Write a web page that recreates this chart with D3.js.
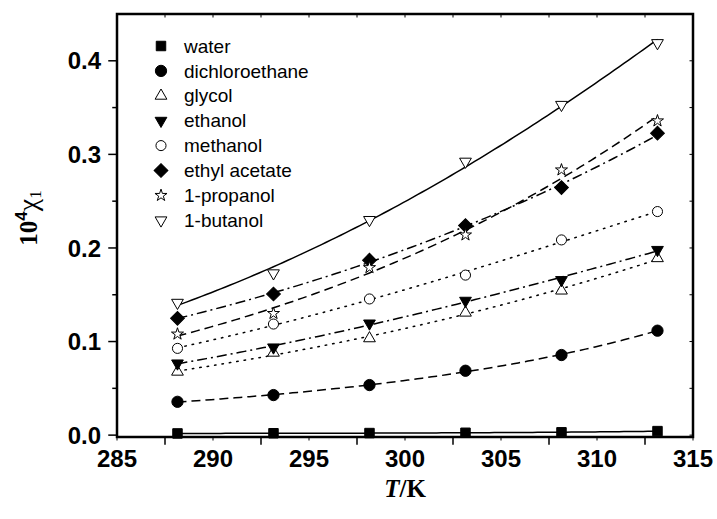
<!DOCTYPE html>
<html>
<head>
<meta charset="utf-8">
<script src="https://cdn.jsdelivr.net/npm/d3@7"></script>
<style>
  body { margin: 0; background: #fff; }
  text { fill: #000; }
</style>
</head>
<body>
<div id="chart"></div>
<script>
// temperatures (K) and mole fraction solubility (x 10^4)
const temps = [288.15, 293.15, 298.15, 303.15, 308.15, 313.15];
const solvents = ["water", "dichloroethane", "glycol", "ethanol", "methanol", "ethyl acetate", "1-propanol", "1-butanol"];

const water = [0.0018, 0.0020, 0.0022, 0.0025, 0.0030, 0.0043];
const dichloroethane = [0.0356, 0.0428, 0.0535, 0.0688, 0.0856, 0.1116];
const glycol = [0.0677, 0.0880, 0.1034, 0.1308, 0.1544, 0.1890];
const ethanol = [0.0767, 0.0938, 0.1194, 0.1437, 0.1658, 0.1980];
const methanol = [0.0927, 0.1187, 0.1455, 0.1710, 0.2086, 0.2389];
const ethylAcetate = [0.1248, 0.1508, 0.1870, 0.2239, 0.2645, 0.3227];
const propanol = [0.1080, 0.1300, 0.1790, 0.2139, 0.2834, 0.3358];
const butanol = [0.1415, 0.1730, 0.2300, 0.2923, 0.3530, 0.4190];

const seriesValues = [water, dichloroethane, glycol, ethanol, methanol, ethylAcetate, propanol, butanol];

const xTicks = [285, 290, 295, 300, 305, 310, 315];
const yTicks = [0.0, 0.1, 0.2, 0.3, 0.4];

const width = 717, height = 519;
const margin = { left: 117, right: 24, top: 14, bottom: 82 };

const DASHED = "9,5";
const DOTTED = "1.5,6";
const DASHDOT = "10,4,2,4";

// marker + line look for each solvent
const styles = {
  "water": { sym: d3.symbolSquare, size: 90, fill: "#000", rot: 0, dash: null },
  "dichloroethane": { sym: d3.symbolCircle, size: 100, fill: "#000", rot: 0, dash: DASHED },
  "glycol": { sym: d3.symbolTriangle, size: 60, fill: "#fff", rot: 0, dash: DOTTED },
  "ethanol": { sym: d3.symbolTriangle, size: 60, fill: "#000", rot: 180, dash: DASHDOT },
  "methanol": { sym: d3.symbolCircle, size: 80, fill: "#fff", rot: 0, dash: DOTTED },
  "ethyl acetate": { sym: d3.symbolSquare, size: 95, fill: "#000", rot: 45, dash: DASHDOT },
  "1-propanol": { sym: d3.symbolStar, size: 45, fill: "#fff", rot: 0, dash: DASHED },
  "1-butanol": { sym: d3.symbolTriangle, size: 60, fill: "#fff", rot: 180, dash: null },
};

const svg = d3.select("#chart").append("svg")
  .attr("width", width)
  .attr("height", height)
  .attr("viewBox", `0 0 ${width} ${height}`);

const x = d3.scaleLinear().domain([285, 315]).range([margin.left, width - margin.right]);
const y = d3.scaleLinear().domain([-0.002, 0.45]).range([height - margin.bottom, margin.top]);

// least squares fit of ln(x1) = a + b t + c t^2, t = T - 300
function fitCurve(values) {
  const S = [[0, 0, 0], [0, 0, 0], [0, 0, 0]];
  const R = [0, 0, 0];
  temps.forEach((T, i) => {
    const t = T - 300;
    const basis = [1, t, t * t];
    const ly = Math.log(values[i]);
    for (let r = 0; r < 3; r++) {
      R[r] += basis[r] * ly;
      for (let c = 0; c < 3; c++) S[r][c] += basis[r] * basis[c];
    }
  });
  // gaussian elimination
  for (let p = 0; p < 3; p++) {
    for (let r = p + 1; r < 3; r++) {
      const f = S[r][p] / S[p][p];
      for (let c = p; c < 3; c++) S[r][c] -= f * S[p][c];
      R[r] -= f * R[p];
    }
  }
  const k = [0, 0, 0];
  for (let r = 2; r >= 0; r--) {
    let s = R[r];
    for (let c = r + 1; c < 3; c++) s -= S[r][c] * k[c];
    k[r] = s / S[r][r];
  }
  return (T) => Math.exp(k[0] + k[1] * (T - 300) + k[2] * (T - 300) ** 2);
}

const line = d3.line().x((d) => x(d[0])).y((d) => y(d[1]));

// fitted curves
const curveGroup = svg.append("g").attr("class", "curves");
solvents.forEach((name, i) => {
  const f = fitCurve(seriesValues[i]);
  const pts = d3.range(temps[0], temps[temps.length - 1] + 0.01, 0.25).map((T) => [T, f(T)]);
  curveGroup.append("path")
    .attr("d", line(pts))
    .attr("fill", "none")
    .attr("stroke", "#000")
    .attr("stroke-width", 1.5)
    .attr("stroke-linecap", styles[name].dash === DOTTED ? "round" : "butt")
    .attr("stroke-dasharray", styles[name].dash);
});

// markers
const markerGroup = svg.append("g").attr("class", "markers");
solvents.forEach((name, i) => {
  const st = styles[name];
  markerGroup.selectAll(null)
    .data(temps.map((T, j) => [T, seriesValues[i][j]]))
    .enter()
    .append("path")
    .attr("d", d3.symbol().type(st.sym).size(st.size))
    .attr("transform", (d) => `translate(${x(d[0])},${y(d[1])}) rotate(${st.rot})`)
    .attr("fill", st.fill)
    .attr("stroke", "#000")
    .attr("stroke-width", 1);
});

// frame
const x0 = margin.left, x1 = width - margin.right;
const y0 = height - margin.bottom, y1 = margin.top;
const frame = svg.append("g").attr("class", "frame")
  .attr("stroke", "#000").attr("stroke-linecap", "square");

const xMinor = d3.range(287.5, 315, 5);
const yMinor = d3.range(0.05, 0.45, 0.1);

// bottom ticks (half steps long, whole steps short, pointing out)
xMinor.forEach((v) => frame.append("line").attr("x1", x(v)).attr("x2", x(v)).attr("y1", y0).attr("y2", y0 + 7).attr("stroke-width", 1.5));
xTicks.forEach((v) => frame.append("line").attr("x1", x(v)).attr("x2", x(v)).attr("y1", y0).attr("y2", y0 + 3).attr("stroke-width", 1));
// top ticks (short, inward)
xMinor.concat(xTicks).forEach((v) => frame.append("line").attr("x1", x(v)).attr("x2", x(v)).attr("y1", y1).attr("y2", y1 + 3).attr("stroke-width", 1));
// left ticks
yTicks.forEach((v) => frame.append("line").attr("x1", x0 - 8).attr("x2", x0).attr("y1", y(v)).attr("y2", y(v)).attr("stroke-width", 1.5));
yMinor.forEach((v) => frame.append("line").attr("x1", x0 - 4).attr("x2", x0).attr("y1", y(v)).attr("y2", y(v)).attr("stroke-width", 1.5));
// right ticks (short, inward)
yTicks.concat(yMinor).forEach((v) => frame.append("line").attr("x1", x1 - 3).attr("x2", x1).attr("y1", y(v)).attr("y2", y(v)).attr("stroke-width", 1));

frame.append("rect")
  .attr("x", x0).attr("y", y1)
  .attr("width", x1 - x0).attr("height", y0 - y1)
  .attr("fill", "none").attr("stroke-width", 2.5);

// tick labels
const tickFont = "'Liberation Sans', Arial, sans-serif";
svg.append("g").selectAll("text").data(xTicks).enter().append("text")
  .attr("x", (d) => x(d)).attr("y", y0 + 30)
  .attr("text-anchor", "middle")
  .attr("font-family", tickFont).attr("font-weight", "bold").attr("font-size", 24)
  .text((d) => d);

svg.append("g").selectAll("text").data(yTicks).enter().append("text")
  .attr("x", x0 - 16).attr("y", (d) => y(d)).attr("dy", "0.36em")
  .attr("text-anchor", "end")
  .attr("font-family", tickFont).attr("font-weight", "bold").attr("font-size", 24)
  .text((d) => d.toFixed(1));

// axis titles
const serif = "'Liberation Serif', 'Times New Roman', serif";
const xTitle = svg.append("text")
  .attr("x", (x0 + x1) / 2).attr("y", height - 22)
  .attr("text-anchor", "middle")
  .attr("font-family", serif).attr("font-weight", "bold").attr("font-size", 25);
xTitle.append("tspan").attr("font-style", "italic").text("T");
xTitle.append("tspan").text("/K");

const yTitle = svg.append("text")
  .attr("transform", `translate(37, 218) rotate(-90)`)
  .attr("text-anchor", "middle")
  .attr("font-family", serif).attr("font-weight", "bold").attr("font-size", 25);
yTitle.append("tspan").text("10");
yTitle.append("tspan").attr("font-family", tickFont)
  .attr("font-size", 17).attr("dy", -10).text("4");
yTitle.append("tspan").attr("font-weight", "normal").attr("font-size", 28).attr("dy", 10).text("\u03C7");
yTitle.append("tspan").attr("font-weight", "normal").attr("font-size", 17).attr("dy", 4).text("1");

// legend
const legend = svg.append("g").attr("class", "legend");
solvents.forEach((name, i) => {
  const st = styles[name];
  const ly = 46 + i * 24.9;
  legend.append("path")
    .attr("d", d3.symbol().type(st.sym).size(st.size))
    .attr("transform", `translate(161,${ly}) rotate(${st.rot})`)
    .attr("fill", st.fill).attr("stroke", "#000").attr("stroke-width", 1);
  legend.append("text")
    .attr("x", 184).attr("y", ly).attr("dy", "0.35em")
    .attr("font-family", tickFont).attr("font-size", 19)
    .text(name);
});
</script>
</body>
</html>
